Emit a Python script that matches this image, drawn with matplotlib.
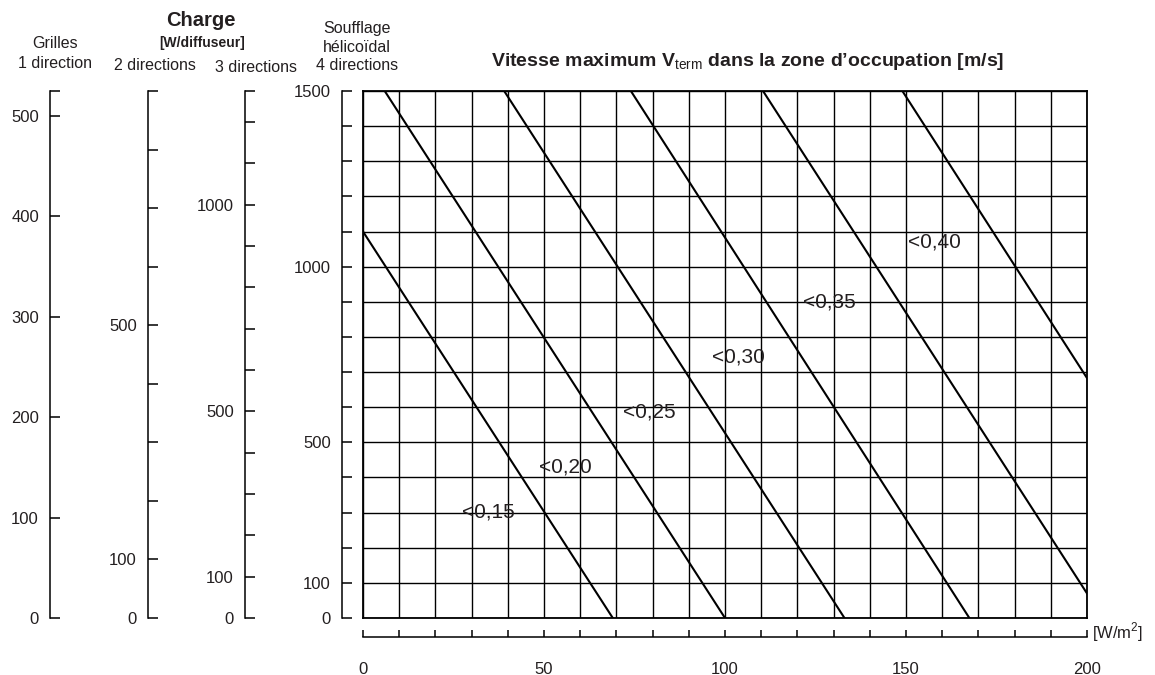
import matplotlib.pyplot as plt

plt.rcParams['font.family'] = ['Liberation Sans', 'DejaVu Sans']
plt.rcParams['mathtext.fontset'] = 'custom'
plt.rcParams['mathtext.rm'] = 'Liberation Sans'
plt.rcParams['mathtext.bf'] = 'Liberation Sans:bold'
txt = '#231f20'

# axe horizontal : charge surfacique [W/m2]
x_ticks = list(range(0, 201, 10))
x_labels = [0, 50, 100, 150, 200]

# axes verticaux : charge par diffuseur [W/diffuseur]
axis_max = [525, 900, 1275, 1500]
axis_ticks = [list(range(0, 501, 100)), list(range(0, 801, 100)),
              list(range(0, 1201, 100)), list(range(0, 1501, 100))]
axis_labels = [[0, 100, 200, 300, 400, 500], [0, 100, 500],
               [0, 100, 500, 1000], [0, 100, 500, 1000, 1500]]

# droites de vitesse maximum (point haut / point bas, en W/m2 et W)
velocities = ['<0,15', '<0,20', '<0,25', '<0,30', '<0,35', '<0,40']
x_start = [0, 6, 39, 74, 110.5, 149]
y_start = [1100, 1500, 1500, 1500, 1500, 1500]
x_end = [69, 100, 133, 167.5, 200, 200]
y_end = [0, 0, 0, 0, 70, 683]
label_x = [27.3, 48.6, 71.8, 96.4, 121.5, 150.5]
label_y = [302, 430, 586, 743, 900, 1070]

W, H = 1155, 675
fig = plt.figure(figsize=(W / 100, H / 100), dpi=100)
rect = [363 / W, 57 / H, 724 / W, 527 / H]

# grille principale
ax = fig.add_axes(rect)
ax.set_xlim(0, 200)
ax.set_ylim(0, 1500)
ax.set_xticks(x_ticks)
ax.set_yticks(axis_ticks[3])
ax.grid(True, color='black', lw=1.0)
ax.tick_params(length=0, labelbottom=False, labelleft=False)
for s in ax.spines.values():
    s.set_linewidth(1.3)

for i in range(len(velocities)):
    ax.plot([x_start[i], x_end[i]], [y_start[i], y_end[i]], color='black', lw=1.5)
    ax.text(label_x[i], label_y[i], velocities[i], fontsize=15, color=txt,
            ha='left', va='center')

# axes de gauche
positions = [(50 - 363) / 724, (148 - 363) / 724, (245 - 363) / 724, (342 - 363) / 724]
for i in range(4):
    a = fig.add_axes(rect)
    a.patch.set_visible(False)
    for k in ['top', 'right', 'bottom']:
        a.spines[k].set_visible(False)
    a.spines['left'].set_position(('axes', positions[i]))
    a.spines['left'].set_linewidth(1.1)
    a.set_ylim(0, axis_max[i])
    ticks = sorted(set(axis_ticks[i] + [axis_max[i]]))
    a.set_yticks(ticks)
    a.set_yticklabels([str(v) if v in axis_labels[i] else '' for v in ticks])
    a.set_xticks([])
    a.tick_params(axis='y', direction='in', length=7, width=1.1, pad=8,
                  labelsize=12, labelcolor=txt)

# axe du bas
b = fig.add_axes(rect)
b.patch.set_visible(False)
for k in ['top', 'right', 'left']:
    b.spines[k].set_visible(False)
b.spines['bottom'].set_position(('axes', -19 / 527))
b.spines['bottom'].set_linewidth(1.1)
b.set_xlim(0, 200)
b.set_xticks(x_ticks)
b.set_xticklabels([str(v) if v in x_labels else '' for v in x_ticks])
b.set_yticks([])
b.tick_params(axis='x', direction='in', length=5, width=1.1, pad=18,
              labelsize=12, labelcolor=txt)
b.tick_params(axis='x', which='minor', direction='inout', length=9, width=2)
b.set_xticks([0], minor=True)
fig.text(1092 / W, 1 - 632 / H, '[W/m$^2$]', fontsize=12, color=txt, va='center')

# titres
fig.text(748 / W, 1 - 61 / H,
         r'Vitesse maximum V$_{\mathrm{term}}$ dans la zone d’occupation [m/s]',
         fontsize=14, fontweight='bold', color=txt, ha='center', va='center')
fig.text(55 / W, 1 - 43 / H, 'Grilles', fontsize=11.5, color=txt, ha='center', va='center')
fig.text(55 / W, 1 - 63 / H, '1 direction', fontsize=11.5, color=txt, ha='center', va='center')
fig.text(201 / W, 1 - 21 / H, 'Charge', fontsize=14.5, fontweight='bold', color=txt,
         ha='center', va='center')
fig.text(202 / W, 1 - 43 / H, '[W/diffuseur]', fontsize=10, fontweight='bold', color=txt,
         ha='center', va='center')
fig.text(155 / W, 1 - 66 / H, '2 directions', fontsize=11.5, color=txt, ha='center', va='center')
fig.text(256 / W, 1 - 68 / H, '3 directions', fontsize=11.5, color=txt, ha='center', va='center')
fig.text(357 / W, 1 - 29 / H, 'Soufflage', fontsize=11.5, color=txt, ha='center', va='center')
fig.text(357 / W, 1 - 48 / H, 'hélicoïdal', fontsize=11.5, color=txt, ha='center', va='center')
fig.text(357 / W, 1 - 66 / H, '4 directions', fontsize=11.5, color=txt, ha='center', va='center')

fig.savefig('out.png', dpi=100)
